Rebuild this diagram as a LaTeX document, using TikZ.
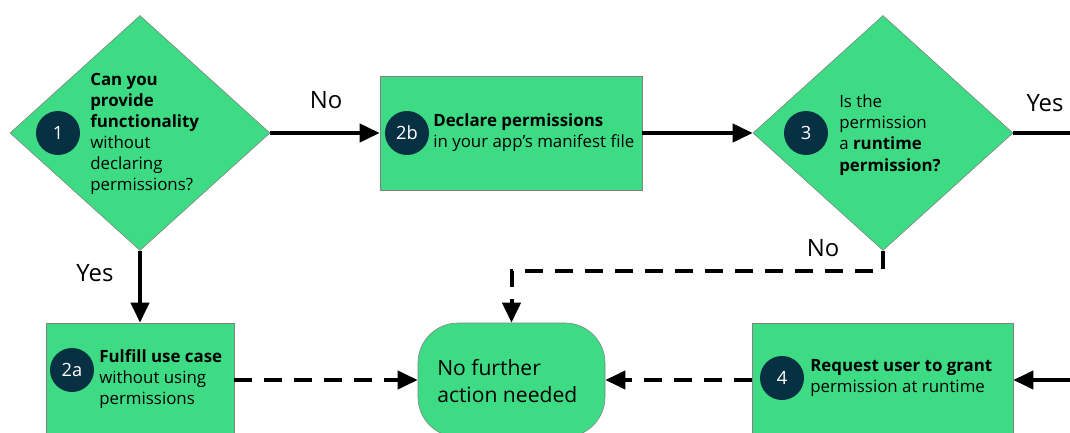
\documentclass[tikz,border=0pt]{standalone}
\usepackage{fontspec}
\setmainfont{Open Sans}
\usetikzlibrary{shapes.geometric,arrows.meta}
\definecolor{droidgreen}{HTML}{3DDC84}
\definecolor{droidnavy}{HTML}{073042}
\begin{document}
\begin{tikzpicture}[
	decision/.style={diamond, draw=gray, fill=droidgreen, inner sep=0pt, minimum width=6.5cm, minimum height=5.875cm},
	stepbox/.style={rectangle, draw=gray, fill=droidgreen, inner sep=0pt},
	endbox/.style={rectangle, rounded corners=1cm, draw=gray, fill=droidgreen, inner sep=0pt, minimum width=4.675cm, minimum height=2.85cm},
	num/.style={circle, fill=droidnavy, text=white, minimum size=1.1cm, inner sep=0pt, font=\fontsize{13}{15}\selectfont},
	desc/.style={anchor=west, align=left, inner sep=0pt, font=\fontsize{12}{15}\selectfont},
	lbl/.style={inner sep=0pt, font=\fontsize{17}{20}\selectfont},
	flow/.style={line width=0.1cm, -{Triangle[length=0.5cm,width=0.45cm]}},
	optflow/.style={flow, dash pattern=on 0.45cm off 0.3cm}
	]
	\useasboundingbox (0,0) rectangle (26.75,-10.825);
	\clip (0,0) rectangle (26.75,-10.825);
	
	\node[decision] at (3.5,-3.325) (d1) {};
	\node[num] at (1.45,-3.325) (n1) {1};
	\node[desc] at (2.25,-3.35) (t1) {\textbf{Can you}\\\textbf{provide}\\\textbf{functionality}\\without\\declaring\\permissions?};
	
	\node[stepbox, minimum width=6.55cm, minimum height=2.85cm] at (12.775,-3.325) (b2b) {};
	\node[num] at (10.175,-3.325) (n2b) {2b};
	\node[desc] at (10.825,-3.325) (t2b) {\textbf{Declare permissions}\\in your app’s manifest file};
	
	\node[decision] at (22.075,-3.325) (d3) {};
	\node[num] at (20.15,-3.325) (n3) {3};
	\node[desc] at (20.975,-3.375) (t3) {Is the\\permission\\a \textbf{runtime}\\\textbf{permission?}};
	\coordinate (yesout) at (26.8,-3.325);
	
	\node[stepbox, minimum width=4.7cm, minimum height=2.85cm] at (3.5,-9.5) (b2a) {};
	\node[num] at (1.8,-9.25) (n2a) {2a};
	\node[desc] at (2.475,-9.475) (t2a) {\textbf{Fulfill use case}\\without using\\permissions};
	
	\node[endbox] at (12.7875,-9.5) (done) {};
	\node[anchor=west, align=left, inner sep=0pt, font=\fontsize{15}{19}\selectfont] at (10.925,-9.525) (tdone) {No further\\action needed};
	
	\node[stepbox, minimum width=6.525cm, minimum height=2.85cm] at (22.0625,-9.5) (b4) {};
	\node[num] at (19.55,-9.45) (n4) {4};
	\node[desc] at (20.25,-9.45) (t4) {\textbf{Request user to grant}\\permission at runtime};
	\coordinate (grantin) at (26.8,-9.5);
	
	\draw[flow] (d1.east) -- (b2b.west);
	\node[lbl] at (8.15,-2.5) (no1) {No};
	\draw[flow] (b2b.east) -- (d3.west);
	\draw[line width=0.1cm] (d3.east) -- (yesout);
	\node[lbl] at (26.125,-2.575) (yes3) {Yes};
	\draw[optflow] (d3.south) -- ++(0,-0.5) -| (done.north);
	\node[lbl] at (20.575,-6.2) (no3) {No};
	\draw[flow] (d1.south) -- (b2a.north);
	\node[lbl] at (2.375,-6.825) (yes1) {Yes};
	\draw[optflow] (b2a.east) -- (done.west);
	\draw[optflow] (b4.west) -- (done.east);
	\draw[flow] (grantin) -- (b4.east);
\end{tikzpicture}
\end{document}
